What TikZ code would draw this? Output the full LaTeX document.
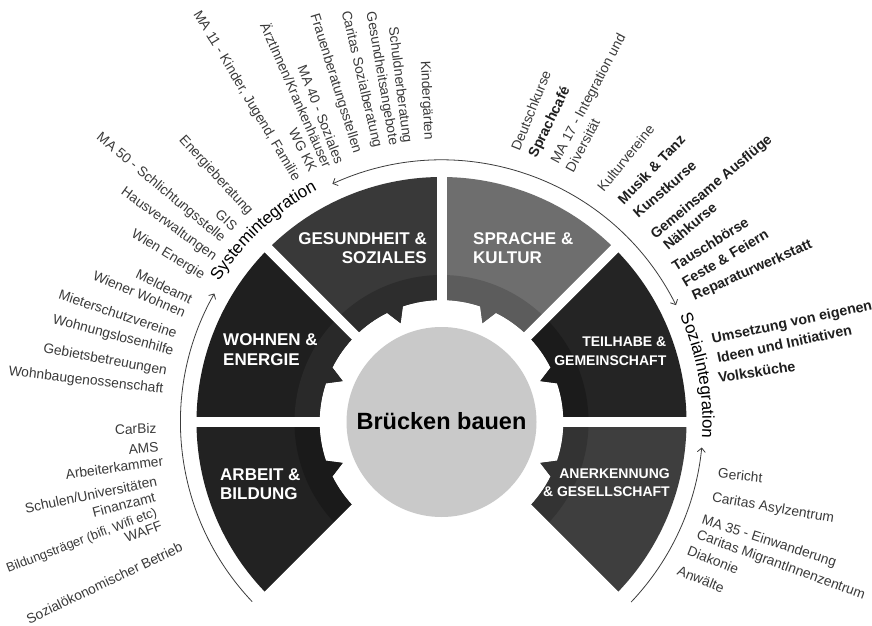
\documentclass[tikz,border=0pt]{standalone}
\usepackage{fontspec}
\setmainfont{Liberation Sans}
\usetikzlibrary{arrows.meta,decorations.text}
\definecolor{cGes}{HTML}{393939}\definecolor{cGesB}{HTML}{2D2D2D}
\definecolor{cSpr}{HTML}{6E6E6E}\definecolor{cSprB}{HTML}{5C5C5C}
\definecolor{cWoh}{HTML}{1F1F1F}\definecolor{cWohB}{HTML}{292929}
\definecolor{cArb}{HTML}{222222}\definecolor{cArbB}{HTML}{1A1A1A}
\definecolor{cTei}{HTML}{242424}\definecolor{cTeiB}{HTML}{1B1B1B}
\definecolor{cAne}{HTML}{3E3E3E}\definecolor{cAneB}{HTML}{333333}
\definecolor{cHub}{HTML}{C9C9C9}
\definecolor{labgray}{HTML}{3A3A3A}
\definecolor{arcgray}{HTML}{3C3C3C}
\newcommand\labfont{\fontsize{13.8}{16}\selectfont}
\newcommand\boldlabfont{\fontsize{14.2}{16}\selectfont\bfseries}
\newcommand\segfont{\fontsize{17}{19}\selectfont\bfseries}
\newcommand\segsmallfont{\fontsize{14}{16}\selectfont\bfseries}
\newcommand\arcfont{\fontsize{17}{20}\selectfont}
\newcommand\segpath[2]{%
  (#1:245) arc[start angle=#1,end angle=#2,radius=245pt] -- (#2:122)
  arc[start angle=#2,end angle=\segr,radius=122pt] -- (\segc:107) -- (\segl:122)
  arc[start angle=\segl,end angle=#1,radius=122pt] -- cycle}
\newcommand\drawseg[4]{%
  \pgfmathsetmacro\segc{(#1+#2)/2}%
  \pgfmathsetmacro\segl{\segc-4}%
  \pgfmathsetmacro\segr{\segc+4}%
  \fill[#3] \segpath{#1}{#2};
  \begin{scope}
    \clip \segpath{#1}{#2};
    \fill[#4] (0,0) circle[radius=147pt];
  \end{scope}}
\tikzset{
  lbl/.style={font=\labfont, text=labgray, inner sep=0pt},
  blbl/.style={font=\boldlabfont, text=black!88, inner sep=0pt},
  seglbl/.style={font=\segfont, text=white, inner sep=0pt},
  segsmall/.style={font=\segsmallfont, text=white, inner sep=0pt},
  arcline/.style={draw=arcgray, line width=0.8pt},
  tip/.tip={Straight Barb[length=4pt,width=8pt]}
}
\begin{document}
\begin{tikzpicture}[x=1pt,y=1pt]
\fill[white] (0,0) rectangle (872,625);
\useasboundingbox (0,0) rectangle (872,625);
\begin{scope}[shift={(441.5,203)}]
  % segments
  \drawseg{90}{135}{cGes}{cGesB}
  \drawseg{45}{90}{cSpr}{cSprB}
  \drawseg{135}{180}{cWoh}{cWohB}
  \drawseg{180}{225}{cArb}{cArbB}
  \drawseg{0}{45}{cTei}{cTeiB}
  \drawseg{-45}{0}{cAne}{cAneB}
  % gaps
  \foreach \g in {-45,0,45,90,135,180,225}
    \draw[white, line width=10pt] (\g:100) -- (\g:256);
  % hub
  \node[circle, fill=cHub, minimum size=190pt, inner sep=0pt] (hub) at (0,0) {};
  \node[font=\fontsize{23.5}{26}\selectfont\bfseries, text=black] (title) at (0,1) {Brücken bauen};
  % arcs with arrows
  \coordinate (aL1) at (223.5:261);
  \coordinate (aT1) at (114.6:262);
  \coordinate (aR1) at (-5.6:261.5);
  \draw[arcline, -tip] (aL1) arc[start angle=223.5, end angle=150.5, radius=261pt];
  \draw[arcline, tip-tip] (aT1) arc[start angle=114.6, end angle=26.5, radius=262pt];
  \draw[arcline, tip-] (aR1) arc[start angle=-5.6, end angle=-43.5, radius=261.5pt];
  % arc texts
  \path[decorate, decoration={text along path, text align=center,
      text={|\arcfont|Systemintegration}}]
    (150:263) arc[start angle=150, end angle=116, radius=263pt];
  \path[decorate, decoration={text along path, text align=center,
      text={|\arcfont|Sozialintegration}}]
    (25:261) arc[start angle=25, end angle=-4.5, radius=261pt];
  % left radial labels
  \node[lbl,anchor=east,rotate=-87.3] (g1) at (92.7:282) {Kindergärten};
  \node[lbl,anchor=east,rotate=-82.9] (g2) at (97.1:281) {Schuldnerberatung};
  \node[lbl,anchor=east,rotate=-80.1] (g3) at (99.9:281) {Gesundheitsangebote};
  \node[lbl,anchor=east,rotate=-76.8] (g4) at (103.2:282) {Caritas Sozialberatung};
  \node[lbl,anchor=east,rotate=-72.6] (g5) at (107.4:282) {Frauenberatungsstellen};
  \node[lbl,anchor=east,rotate=-68.6] (g6) at (111.4:278) {MA 40 - Soziales};
  \node[lbl,anchor=east,rotate=-66.1] (g7) at (113.9:279) {ÄrztInnen/Krankenhäuser};
  \node[lbl,anchor=east,rotate=-63] (g8) at (117:282) {WG KK};
  \node[lbl,anchor=east,rotate=-59.1] (g9) at (120.9:282) {MA 11 - Kinder, Jugend, Familie};
  \node[lbl,anchor=east,rotate=-47.5] (w1) at (132.5:283) {Energieberatung};
  \node[lbl,anchor=east,rotate=-43.2] (w2) at (136.8:283) {GIS};
  \node[lbl,anchor=east,rotate=-39.8] (w3) at (140.2:284) {MA 50 - Schlichtungsstelle};
  \node[lbl,anchor=east,rotate=-35.9] (w4) at (144.1:279.5) {Hausverwaltungen};
  \node[lbl,anchor=east,rotate=-31.4] (w5) at (148.6:279) {Wien Energie};
  \node[lbl,anchor=east,rotate=-26] (w6) at (154:278) {Meldeamt};
  \node[lbl,anchor=east,rotate=-23] (w7) at (157:278.6) {Wiener Wohnen};
  \node[lbl,anchor=east,rotate=-18.5] (w8) at (161.5:279.3) {Mieterschutzvereine};
  \node[lbl,anchor=east,rotate=-14.7] (w9) at (165.3:277.3) {Wohnungslosenhilfe};
  \node[lbl,anchor=east,rotate=-10.4] (w10) at (169.6:279.4) {Gebietsbetreuungen};
  \node[lbl,anchor=east,rotate=-6.6] (w11) at (173.4:280) {Wohnbaugenossenschaft};
  \node[lbl,anchor=east,rotate=1.3] (a1) at (181.3:285) {CarBiz};
  \node[lbl,anchor=east,rotate=5] (a2) at (185:284) {AMS};
  \node[lbl,anchor=east,rotate=7.9] (a3) at (187.9:281) {Arbeiterkammer};
  \node[lbl,anchor=east,rotate=11.7] (a4) at (191.7:290.8) {Schulen/Universitäten};
  \node[lbl,anchor=east,rotate=14.6] (a5) at (194.6:296) {Finanzamt};
  \node[lbl,anchor=east,rotate=21,font=\fontsize{12.8}{15}\selectfont] (a6) at (197.6:298.8) {Bildungsträger (bifi, Wifi etc)};
  \node[lbl,anchor=east,rotate=20.2] (a7) at (200.2:298.2) {WAFF};
  \node[lbl,anchor=east,rotate=25.5] (a8) at (205.5:287.8) {Sozialökonomischer Betrieb};
\end{scope}
% segment labels
\node[seglbl,anchor=base east] (s1a) at (427,381) {GESUNDHEIT \&};
\node[seglbl,anchor=base east] (s1b) at (427,362) {SOZIALES};
\node[seglbl,anchor=base west] (s2a) at (473,381) {SPRACHE \&};
\node[seglbl,anchor=base west] (s2b) at (473,362) {KULTUR};
\node[seglbl,anchor=base west] (s3a) at (223,280) {WOHNEN \&};
\node[seglbl,anchor=base west] (s3b) at (223,260) {ENERGIE};
\node[seglbl,anchor=base west] (s4a) at (220,145) {ARBEIT \&};
\node[seglbl,anchor=base west] (s4b) at (220,125.7) {BILDUNG};
\node[segsmall,anchor=base east] (s5a) at (666.5,278.3) {TEILHABE \&};
\node[segsmall,anchor=base east] (s5b) at (666.5,259.3) {GEMEINSCHAFT};
\node[segsmall,anchor=base east] (s6a) at (670,146.7) {ANERKENNUNG};
\node[segsmall,anchor=base east] (s6b) at (670,128.3) {\& GESELLSCHAFT};
% right side labels
\node[lbl,anchor=west,rotate=68] (r1) at (515,475) {Deutschkurse};
\node[blbl,anchor=west,rotate=64] (r2) at (533,468) {Sprachcafé};
\node[lbl,anchor=west,rotate=62] (r3) at (555,462) {MA 17 - Integration und};
\node[lbl,anchor=west,rotate=62] (r4) at (569,454) {Diversität};
\node[lbl,anchor=west,rotate=51] (r5) at (600,435) {Kulturvereine};
\node[blbl,anchor=west,rotate=46] (r6) at (620,423) {Musik \& Tanz};
\node[blbl,anchor=west,rotate=41] (r7) at (635,410) {Kunstkurse};
\node[blbl,anchor=west,rotate=40] (r8) at (653,388) {Gemeinsame Ausflüge};
\node[blbl,anchor=west,rotate=40] (r9) at (665,378) {Nähkurse};
\node[blbl,anchor=west,rotate=32] (r10) at (673,358) {Tauschbörse};
\node[blbl,anchor=west,rotate=31] (r11) at (683,342) {Feste \& Feiern};
\node[blbl,anchor=west,rotate=24] (r12) at (693,328) {Reparaturwerkstatt};
\node[blbl,anchor=west,rotate=12] (r13) at (712,285) {Umsetzung von eigenen};
\node[blbl,anchor=west,rotate=12] (r14) at (717,267) {Ideen und Initiativen};
\node[blbl,anchor=west,rotate=9] (r15) at (718,247) {Volksküche};
\node[lbl,anchor=west,rotate=-6] (r16) at (718,152) {Gericht};
\node[lbl,anchor=west,rotate=-10] (r17) at (712,127) {Caritas Asylzentrum};
\node[lbl,anchor=west,rotate=-18] (r18) at (702,105) {MA 35 - Einwanderung};
\node[lbl,anchor=west,rotate=-20] (r19) at (697,90) {Caritas MigrantInnenzentrum};
\node[lbl,anchor=west,rotate=-22] (r20) at (688,75) {Diakonie};
\node[lbl,anchor=west,rotate=-22] (r21) at (678,55) {Anwälte};
\end{tikzpicture}
\end{document}
